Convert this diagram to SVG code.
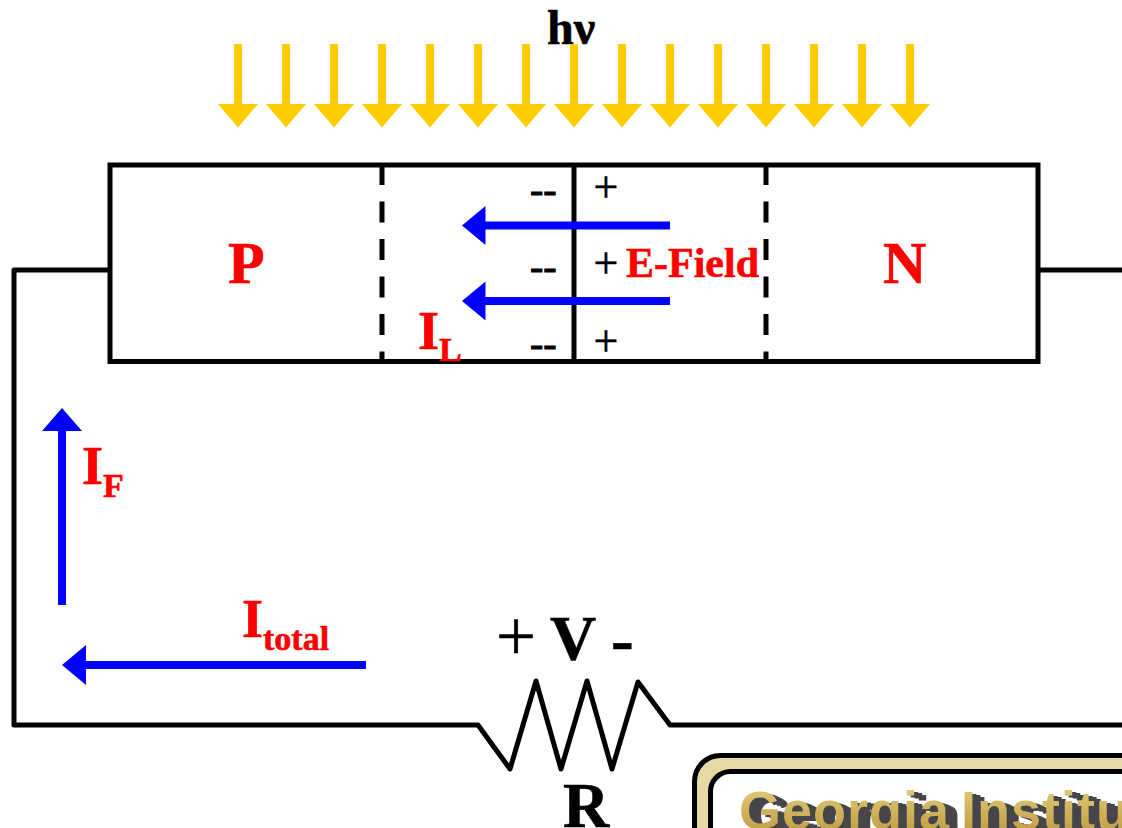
<svg xmlns="http://www.w3.org/2000/svg" width="1122" height="828" viewBox="0 0 1122 828">
<style>
.w{fill:none;stroke:#000;stroke-width:5}
.t{font-family:"Liberation Serif","Times New Roman",serif;font-weight:700;stroke-width:.6}
.r{fill:#f00;stroke:#f00}
.k{fill:#000;stroke:#000}
.n{font-family:"Liberation Serif","Times New Roman",serif;font-weight:400;fill:#000;stroke:#000;stroke-width:.5}
.d{stroke-width:1}
.lg{font-family:"Liberation Sans",Arial,sans-serif;font-weight:700;font-size:54px;letter-spacing:1px;word-spacing:-5px}
</style>
<defs>
<polygon id="ya" fill="#ffcc00" points="-4,44 4,44 4,104 20,104 0,127.5 -20,104 -4,104"/>
<polygon id="bl" fill="#0000ff" points="0,0 23.5,-19.5 23.5,-4 208,-4 208,4 23.5,4 23.5,19.5"/>
<linearGradient id="gold" x1="0" y1="0" x2="0" y2="1"><stop offset="0" stop-color="#e6d080"/><stop offset=".7" stop-color="#c8a850"/><stop offset="1" stop-color="#b8993c"/></linearGradient>
<filter id="ext" x="-5%" y="-20%" width="115%" height="150%" color-interpolation-filters="sRGB">
<feOffset in="SourceAlpha" dx="4" dy="1.500" result="a"/>
<feOffset in="SourceAlpha" dx="8" dy="3" result="b"/>
<feOffset in="SourceAlpha" dx="12" dy="4.500" result="c"/>
<feMerge result="m"><feMergeNode in="a"/><feMergeNode in="b"/><feMergeNode in="c"/></feMerge>
<feFlood flood-color="#45454a"/><feComposite in2="m" operator="in" result="s"/>
<feMerge result="all"><feMergeNode in="s"/><feMergeNode in="SourceGraphic"/></feMerge>
<feGaussianBlur in="all" stdDeviation=".6"/>
</filter>
</defs>
<rect width="1122" height="828" fill="#fff"/>
<g id="connectors">
<path class="w" stroke-linejoin="round" d="M108 270H14V725H478L510 769L536 681L561 769L587 681L612 769L638 682L670 725H1122"/>
<path class="w" d="M1038 270H1122"/>
</g>
<text class="t k" x="547" y="44" font-size="48">hν</text>
<g id="light">
<use href="#ya" x="238"/><use href="#ya" x="286"/><use href="#ya" x="334"/><use href="#ya" x="382"/><use href="#ya" x="430"/><use href="#ya" x="478"/><use href="#ya" x="526"/><use href="#ya" x="574"/><use href="#ya" x="622"/><use href="#ya" x="670"/><use href="#ya" x="718"/><use href="#ya" x="766"/><use href="#ya" x="814"/><use href="#ya" x="862"/><use href="#ya" x="910"/>
</g>
<g id="device">
<rect class="w" x="110" y="165" width="928" height="196.500"/>
<path class="w" stroke-dasharray="21 16.500" d="M382 164V361M766 164V361"/>
<path class="w" d="M574 165V361"/>
</g>
<g id="fields">
<use href="#bl" x="462" y="225.500"/>
<use href="#bl" x="462" y="301"/>
<polygon fill="#0000ff" points="62,408 82,431 66,431 66,605 58,605 58,431 42,431"/>
<polygon fill="#0000ff" points="62,665 86,645 86,661 366,661 366,669 86,669 86,685"/>
</g>
<g id="labels">
<text class="t r" x="228" y="283" font-size="60">P</text>
<text class="t r" x="883" y="283" font-size="60">N</text>
<text class="t r" x="626" y="277" font-size="42">E-Field</text>
<text class="t r" x="418" y="349" font-size="54">I</text>
<text class="t r" x="439" y="361" font-size="34">L</text>
<text class="t r" x="82" y="484" font-size="54">I</text>
<text class="t r" x="103" y="497" font-size="34">F</text>
<text class="t r" x="242" y="637" font-size="54">I</text>
<text class="t r" x="263" y="650" font-size="34">total</text>
<text class="n d" x="530" y="203" font-size="40">--</text>
<text class="n d" x="530" y="280" font-size="40">--</text>
<text class="n d" x="530" y="357" font-size="40">--</text>
<text class="n" x="593.500" y="202" font-size="44">+</text>
<text class="n" x="593.500" y="278" font-size="44">+</text>
<text class="n" x="593.500" y="356" font-size="44">+</text>
<text class="n" x="496" y="660" font-size="71">+</text>
<text class="t k" x="550" y="660" font-size="64">V</text>
<text class="t k" x="611" y="662" font-size="68">-</text>
<text class="t k" x="563" y="827" font-size="64">R</text>
</g>
<g id="logo">
<rect x="694.500" y="755.500" width="500" height="120" rx="26" fill="#e6d9a6" stroke="#000" stroke-width="5"/>
<rect x="710.500" y="771.500" width="500" height="120" rx="20" fill="#fff" stroke="#000" stroke-width="5"/>
<text class="lg" x="739" y="829" fill="url(#gold)" filter="url(#ext)">Georgia Institute</text>
</g>
</svg>
